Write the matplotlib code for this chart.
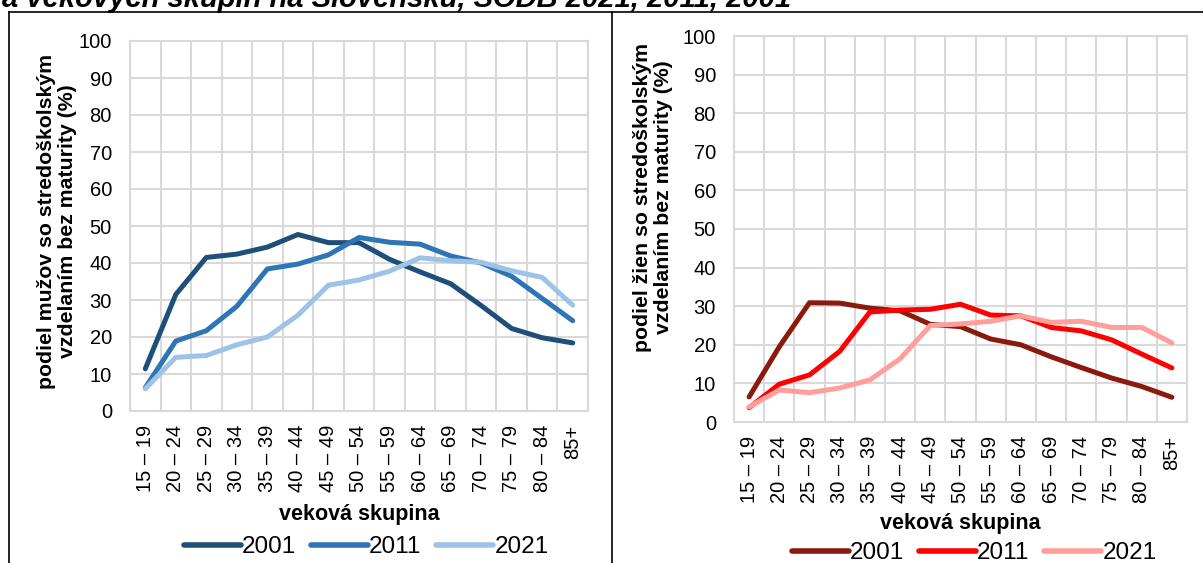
import matplotlib
matplotlib.use("Agg")
import matplotlib.pyplot as plt
from matplotlib.lines import Line2D
import numpy as np

plt.rcParams['font.family'] = ['Liberation Sans', 'DejaVu Sans']

categories = ["15 – 19", "20 – 24", "25 – 29", "30 – 34", "35 – 39", "40 – 44", "45 – 49",
              "50 – 54", "55 – 59", "60 – 64", "65 – 69", "70 – 74", "75 – 79", "80 – 84", "85+"]
years = ["2001", "2011", "2021"]

men_2001 = [11.4, 31.5, 41.5, 42.4, 44.3, 47.7, 45.5, 45.5, 41.0, 37.6, 34.4, 28.5, 22.3, 19.8, 18.4]
men_2011 = [6.3, 18.9, 21.7, 28.3, 38.4, 39.7, 42.2, 46.9, 45.6, 45.1, 41.9, 40.0, 36.4, 30.4, 24.4]
men_2021 = [6.0, 14.5, 15.0, 17.9, 20.0, 25.9, 34.0, 35.4, 37.8, 41.4, 40.6, 40.2, 37.9, 36.1, 28.6]

women_2001 = [6.5, 19.5, 30.9, 30.8, 29.5, 28.8, 25.3, 24.7, 21.5, 20.0, 16.9, 14.1, 11.4, 9.2, 6.4]
women_2011 = [3.7, 9.8, 12.2, 18.3, 28.5, 29.0, 29.2, 30.5, 27.7, 27.5, 24.5, 23.6, 21.3, 17.6, 14.0]
women_2021 = [3.9, 8.3, 7.6, 8.8, 10.9, 16.4, 25.0, 25.4, 26.1, 27.5, 25.8, 26.1, 24.5, 24.5, 20.5]

men_colors = ["#1F4E79", "#2E75B6", "#9DC3E6"]
women_colors = ["#8B1A0E", "#FF0000", "#FF9E9A"]

title_text = "a vekových skupín na Slovensku, SODB 2021, 2011, 2001"
ylabel_men = "podiel mužov so stredoškolským\nvzdelaním bez maturity (%)"
ylabel_women = "podiel žien so stredoškolským\nvzdelaním bez maturity (%)"
xlabel = "veková skupina"

W, H = 1203, 563
fig = plt.figure(figsize=(W / 100, H / 100), dpi=100)


def px_axes(x0, y0, x1, y1):
    return fig.add_axes([x0 / W, 1 - y1 / H, (x1 - x0) / W, (y1 - y0) / H])


def style(ax, series, colors, ylabel, bbox_px, ylab_px, xlab_top_px, leg_px):
    x0, y0, x1, y1 = bbox_px
    w, h = x1 - x0, y1 - y0
    x = np.arange(len(categories))
    lines = []
    for s, c, yr in zip(series, colors, years):
        ln, = ax.plot(x, s, color=c, lw=3.6, solid_capstyle='round', solid_joinstyle='round', label=yr)
        lines.append(ln)
    ax.set_xlim(-0.5, len(categories) - 0.5)
    ax.set_ylim(0, 100)
    ax.set_yticks(np.arange(0, 101, 10))
    ax.set_xticks(x)
    ax.set_xticklabels(categories, rotation=90, fontsize=14.5)
    ax.set_xticks(np.arange(-0.5, len(categories), 1), minor=True)
    ax.tick_params(axis='both', which='both', length=0)
    ax.tick_params(axis='y', labelsize=14.5, pad=13)
    ax.tick_params(axis='x', pad=10)
    ax.grid(True, axis='y', which='major', color='#D9D9D9', lw=1.5)
    ax.grid(True, axis='x', which='minor', color='#D9D9D9', lw=1.5)
    ax.set_axisbelow(True)
    for sp in ax.spines.values():
        sp.set_color('#D9D9D9')
        sp.set_linewidth(1.5)
    ax.set_ylabel(ylabel, fontsize=15.3, fontweight='bold', linespacing=1.1)
    ax.yaxis.set_label_coords(-(x0 - ylab_px[0]) / w, (y1 - ylab_px[1]) / h)
    ax.set_xlabel(xlabel, fontsize=15.5, fontweight='bold')
    ax.xaxis.set_label_coords(0.5, -(xlab_top_px - y1) / h)
    leg = ax.legend(handles=lines, loc='center', bbox_to_anchor=((leg_px[0] - x0) / w, -(leg_px[1] - y1) / h),
                    ncol=3, frameon=False, fontsize=17.5, handlelength=2.35, handletextpad=0.05,
                    columnspacing=0.6, borderaxespad=0)
    for hl in leg.get_lines():
        hl.set_linewidth(4.0)
    return ax


b1 = (130, 41, 588, 411)
ax1 = px_axes(*b1)
style(ax1, [men_2001, men_2011, men_2021], men_colors, ylabel_men, b1,
      ylab_px=(77, 221), xlab_top_px=504, leg_px=(366, 547))

b2 = (734, 36, 1187, 422)
ax2 = px_axes(*b2)
style(ax2, [women_2001, women_2011, women_2021], women_colors, ylabel_women, b2,
      ylab_px=(673, 197), xlab_top_px=513, leg_px=(974, 553))

# panel borders
for (xa, ya, xb, yb) in [(9, 12, 9, H), (9, 12, W, 12), (612, 12, 612, H)]:
    fig.add_artist(Line2D([xa / W, xb / W], [1 - ya / H, 1 - yb / H], color='black', lw=1.2,
                          transform=fig.transFigure))

fig.text(2 / W, 1 - 7 / H, title_text, fontsize=21, fontweight='bold', fontstyle='italic',
         ha='left', va='baseline')

fig.savefig("out.png", dpi=100)
